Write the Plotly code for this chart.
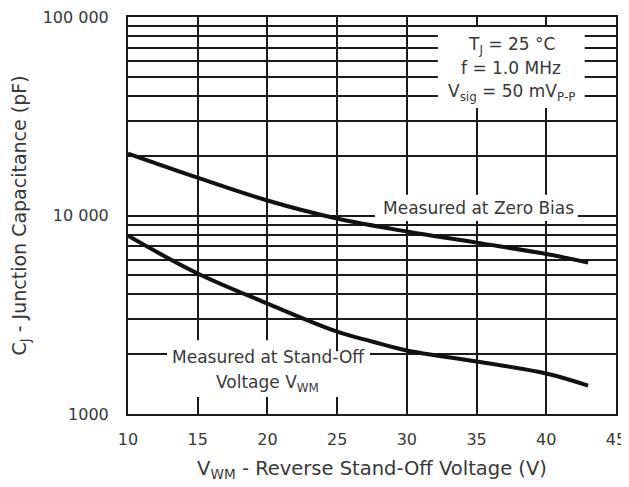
import plotly.graph_objects as go

# Data
v_zero = [10, 15, 20, 25, 30, 35, 40, 43]
c_zero = [20500, 15500, 11900, 9650, 8300, 7300, 6400, 5800]

v_standoff = [10, 15, 20, 25, 27.5, 30, 35, 40, 43]
c_standoff = [7900, 5100, 3600, 2600, 2320, 2090, 1840, 1600, 1390]

x_ticks = [10, 15, 20, 25, 30, 35, 40, 45]
y_ticks = [1000, 10000, 100000]
y_ticktext = ["1000", "10 000", "100 000"]
y_minor = [m * d for d in (1000, 10000) for m in range(2, 10)]

FONT = "DejaVu Sans, Verdana, sans-serif"
TXT = "#383838"
GRID = "#1a1a1a"

fig = go.Figure()
for xs, ys in ((v_zero, c_zero), (v_standoff, c_standoff)):
    fig.add_trace(go.Scatter(
        x=xs, y=ys, mode="lines",
        line=dict(color="#111111", width=4, shape="spline", smoothing=1.0),
        hoverinfo="skip", showlegend=False,
    ))

# white boxes hiding the grid behind the labels (kept clear of the curves)
boxes = [
    (0.635, 0.771, 0.936, 0.975),
    (0.506, 0.486, 0.922, 0.552),
    (0.080, 0.043, 0.424, 0.186),
    (0.424, 0.043, 0.496, 0.158),
]
for x0, y0, x1, y1 in boxes:
    fig.add_shape(type="rect", xref="paper", yref="paper",
                  x0=x0, y0=y0, x1=x1, y1=y1,
                  fillcolor="white", line=dict(width=0), layer="above")

ann_font = dict(family=FONT, size=17, color=TXT)
annotations = [
    ("T<sub>J</sub> = 25 °C", 0.785, 0.929),
    ("f = 1.0 MHz", 0.785, 0.872),
    ("V<sub>sig</sub> = 50 mV<sub>P-P</sub>", 0.785, 0.809),
    ("Measured at Zero Bias", 0.719, 0.519),
    ("Measured at Stand-Off", 0.287, 0.144),
    ("Voltage V<sub>WM</sub>", 0.285, 0.078),
]
for text, x, y in annotations:
    fig.add_annotation(text=text, x=x, y=y, xref="paper", yref="paper",
                       showarrow=False, font=ann_font,
                       xanchor="center", yanchor="middle")

# the page body adds an 8px offset, so the figure is sized to compensate
fig.update_layout(
    width=621, height=479,
    margin=dict(l=120, r=13, t=9, b=73),
    paper_bgcolor="white", plot_bgcolor="white",
    font=dict(family=FONT, size=16, color=TXT),
    xaxis=dict(
        range=[10, 45], tickvals=x_ticks, automargin=False,
        showgrid=True, gridcolor=GRID, gridwidth=2,
        showline=True, linecolor=GRID, linewidth=2, mirror=True,
        ticks="", zeroline=False, ticklabelstandoff=10,
        ticklabeloverflow="allow",
        tickfont=dict(family=FONT, size=16, color=TXT),
        title=dict(text="V<sub>WM</sub> - Reverse Stand-Off Voltage (V)",
                   font=dict(family=FONT, size=19.5, color=TXT), standoff=13),
    ),
    yaxis=dict(
        type="log", range=[3, 5], automargin=False,
        tickvals=y_ticks, ticktext=y_ticktext,
        showgrid=True, gridcolor=GRID, gridwidth=2,
        showline=True, linecolor=GRID, linewidth=2, mirror=True,
        ticks="", zeroline=False, ticklabelstandoff=14,
        ticklabeloverflow="allow",
        tickfont=dict(family=FONT, size=16, color=TXT),
        minor=dict(tickvals=y_minor, showgrid=True,
                   gridcolor=GRID, gridwidth=2, ticks=""),
        title=dict(text="C<sub>J</sub> - Junction Capacitance (pF)",
                   font=dict(family=FONT, size=19, color=TXT), standoff=16),
    ),
)

fig.write_html("out.html")
